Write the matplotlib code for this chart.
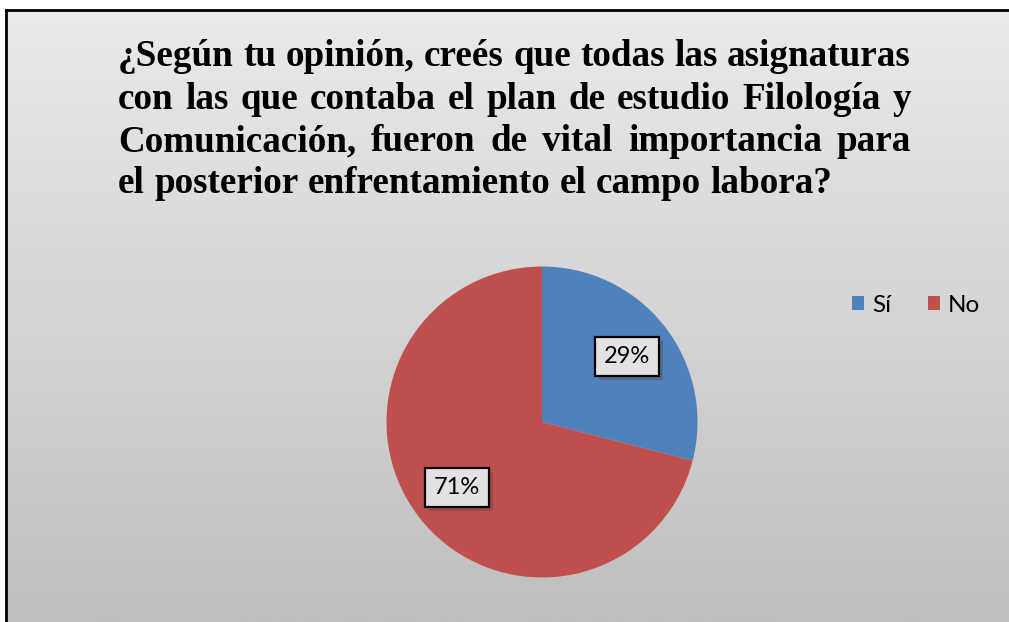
import numpy as np
import matplotlib
matplotlib.use("Agg")
import matplotlib.pyplot as plt
from matplotlib.patches import Rectangle
from matplotlib.transforms import IdentityTransform

labels = ["Sí", "No"]
values = [29, 71]
colors = ["#4f81bd", "#c0504d"]
title_lines = [
    "¿Según tu opinión, creés que todas las asignaturas",
    "con las que contaba el plan de estudio Filología y",
    "Comunicación, fueron de vital importancia para",
    "el posterior enfrentamiento el campo labora?",
]

W, H = 1009, 622
fig = plt.figure(figsize=(W / 100, H / 100), dpi=100)
fig.patch.set_facecolor("white")

# gradient frame
bg = fig.add_axes([6 / W, 0, 1 - 6 / W, 1 - 10 / H])
grad = np.linspace(0, 1, 256).reshape(-1, 1)
cmap = matplotlib.colors.LinearSegmentedColormap.from_list("g", ["#eaeaea", "#bfbfbf"])
bg.imshow(grad, aspect="auto", cmap=cmap, extent=[0, 1, 0, 1], origin="upper")
bg.set_xticks([])
bg.set_yticks([])
for s in ["right", "bottom"]:
    bg.spines[s].set_visible(False)
for s in ["left", "top"]:
    bg.spines[s].set_linewidth(2)
    bg.spines[s].set_color("black")

renderer = fig.canvas.get_renderer()

# justified title, font size fitted so the first line fills the width
x0, x1 = 118, 911
baselines = [66, 109, 151, 193]
tfont = dict(fontweight="bold", family="Liberation Serif")
probe = fig.text(0, 0, title_lines[0], fontsize=24, **tfont)
fs = 24 * (x1 - x0) / probe.get_window_extent(renderer).width
probe.remove()

sp = fig.text(0, 0, "a a", fontsize=fs, **tfont)
sp2 = fig.text(0, 0, "aa", fontsize=fs, **tfont)
space = sp.get_window_extent(renderer).width - sp2.get_window_extent(renderer).width
sp.remove()
sp2.remove()

for i, line in enumerate(title_lines):
    words = line.split(" ")
    texts = [fig.text(0, 0, w, fontsize=fs, va="baseline", ha="left", **tfont)
             for w in words]
    widths = [t.get_window_extent(renderer).width for t in texts]
    if i < len(title_lines) - 1:
        gap = (x1 - x0 - sum(widths)) / (len(words) - 1)
    else:
        gap = space
    x = x0
    for t, w in zip(texts, widths):
        t.set_position((x / W, 1 - baselines[i] / H))
        x += w + gap

# pie
r = 155.5
cx, cy = 542, 422
ax = fig.add_axes([(cx - r) / W, 1 - (cy + r) / H, 2 * r / W, 2 * r / H])
wedges, _, autotexts = ax.pie(values, colors=colors, startangle=90, counterclock=False,
                              autopct="%d%%", pctdistance=0.69, radius=1.0,
                              wedgeprops=dict(linewidth=0))
ax.set_xlim(-1, 1)
ax.set_ylim(-1, 1)
ax.set_aspect("auto")
ax.axis("off")
for t in autotexts:
    t.set_fontsize(17)
    t.set_family("Lato")
    t.set_color("black")
    t.set_zorder(5)
    t.set_bbox(dict(boxstyle="square,pad=0.38", facecolor="#e2e2e2", edgecolor="black", linewidth=1.6))

# drop shadows behind the label boxes
fig.canvas.draw()
for t in autotexts:
    bb = t.get_bbox_patch().get_window_extent(renderer)
    ax.add_patch(Rectangle((bb.x0 + 4, bb.y0 - 4), bb.width, bb.height,
                           transform=IdentityTransform(), clip_on=False,
                           facecolor="#5a3a3a", edgecolor="none", alpha=0.35, zorder=4))

# legend
handles = [Rectangle((0, 0), 1, 1, facecolor=c) for c in colors]
fig.legend(handles, labels, loc="center left", bbox_to_anchor=(852 / W, 1 - 305 / H),
           ncol=2, frameon=False, prop=dict(family="Lato", size=17.5), handlelength=0.5,
           handleheight=0.5, handletextpad=0.33, columnspacing=1.5, borderpad=0,
           borderaxespad=0)

fig.savefig("out.png", dpi=100)
